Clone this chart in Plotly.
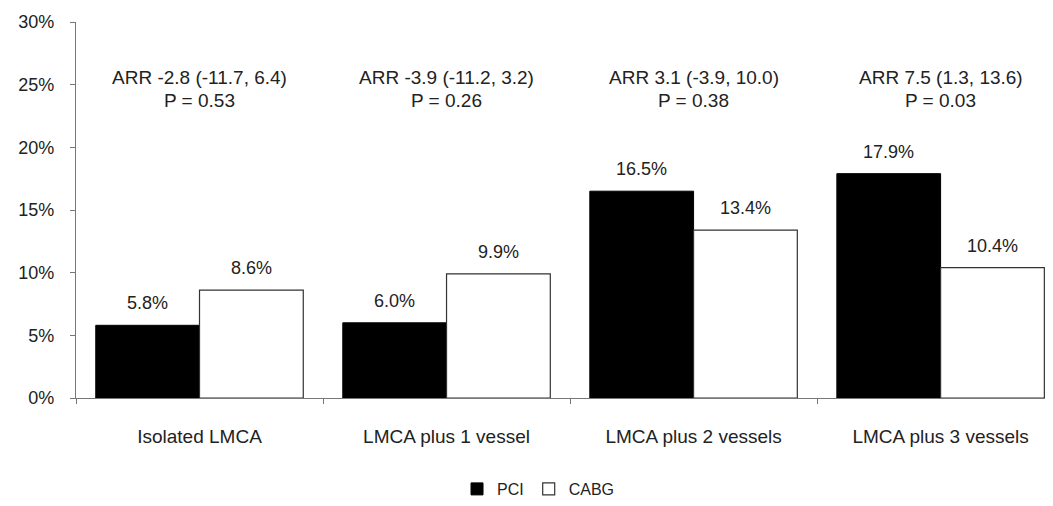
import plotly.graph_objects as go

categories = ["Isolated LMCA", "LMCA plus 1 vessel", "LMCA plus 2 vessels", "LMCA plus 3 vessels"]
pci = [5.8, 6.0, 16.5, 17.9]
cabg = [8.6, 9.9, 13.4, 10.4]
arr_text = ["ARR -2.8 (-11.7, 6.4)", "ARR -3.9 (-11.2, 3.2)", "ARR 3.1 (-3.9, 10.0)", "ARR 7.5 (1.3, 13.6)"]
p_text = ["P = 0.53", "P = 0.26", "P = 0.38", "P = 0.03"]
y_ticks = [0, 5, 10, 15, 20, 25, 30]

FONT = "Liberation Sans, Arial, sans-serif"
TXT = "#222222"

fig = go.Figure()
fig.add_trace(go.Bar(name="PCI", x=categories, y=pci,
                     marker=dict(color="black", line=dict(color="black", width=1))))
fig.add_trace(go.Bar(name="CABG", x=categories, y=cabg,
                     marker=dict(color="white", line=dict(color="#333333", width=1.2))))

bw = 0.42
for i in range(len(categories)):
    fig.add_annotation(x=i - bw / 2, y=pci[i], text=f"{pci[i]:.1f}%", showarrow=False,
                       yanchor="bottom", yshift=10, font=dict(size=18, color=TXT, family=FONT))
    fig.add_annotation(x=i + bw / 2, y=cabg[i], text=f"{cabg[i]:.1f}%", showarrow=False,
                       yanchor="bottom", yshift=10, font=dict(size=18, color=TXT, family=FONT))
    fig.add_annotation(x=i, y=25.6, text=arr_text[i], showarrow=False, yanchor="middle",
                       font=dict(size=19, color=TXT, family=FONT))
    fig.add_annotation(x=i, y=23.7, text=p_text[i], showarrow=False, yanchor="middle",
                       font=dict(size=19, color=TXT, family=FONT))

fig.update_layout(
    width=1045, height=498,
    margin=dict(l=67.6, r=0, t=14, b=106),
    paper_bgcolor="white", plot_bgcolor="white",
    barmode="group", bargap=0.16, bargroupgap=0,
    font=dict(family=FONT, color=TXT, size=18),
    showlegend=True,
    legend=dict(orientation="h", x=0.39, xanchor="left", y=-0.243, yanchor="middle",
                font=dict(size=16, color=TXT, family=FONT), itemwidth=30,
                traceorder="normal"),
    xaxis=dict(type="category", range=[-0.5, 3.455], showline=True, linecolor="#777777",
               linewidth=1.2, ticks="outside", tickson="boundaries", ticklen=5,
               tickcolor="#777777", showgrid=False, tickfont=dict(size=19, color=TXT),
               ticklabelstandoff=21, automargin=False),
    yaxis=dict(range=[0, 30], tickvals=y_ticks, ticktext=[f"{v}%" for v in y_ticks],
               showline=True, linecolor="#777777", linewidth=1.2, ticks="outside",
               ticklen=5, tickcolor="#777777", showgrid=False, zeroline=False,
               tickfont=dict(size=18, color=TXT), ticklabelstandoff=12, automargin=False),
)

fig.write_html("out.html")
